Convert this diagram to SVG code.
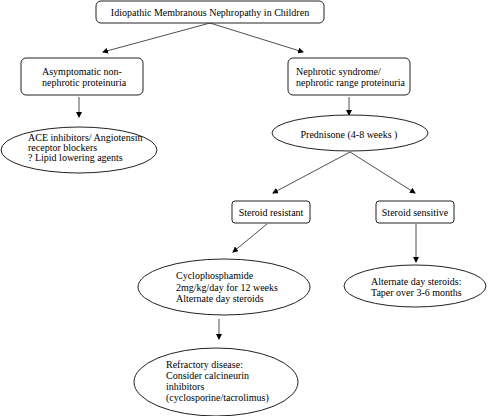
<svg xmlns="http://www.w3.org/2000/svg" width="489" height="416" viewBox="0 0 489 416">
<defs>
<marker id="ah" markerWidth="6" markerHeight="6" refX="5" refY="3" orient="auto" markerUnits="userSpaceOnUse">
<path d="M0,0 L6,3 L0,6 Z" fill="#000"/>
</marker>
<style>
.n{fill:#fff;stroke:#222;stroke-width:1}
.t{font-family:"Liberation Serif","Times New Roman",serif;font-size:10px;fill:#000}
.c{text-anchor:middle}
.e line{stroke:#222;stroke-width:0.8;marker-end:url(#ah)}
</style>
</defs>
<rect width="489" height="416" fill="#fff"/>
<g class="e" id="connectors">
<line x1="210" y1="23" x2="103" y2="52"/>
<line x1="210" y1="23" x2="303" y2="52"/>
<line x1="79" y1="97" x2="79" y2="117"/>
<line x1="349" y1="97" x2="349" y2="115"/>
<line x1="350" y1="152" x2="273" y2="193"/>
<line x1="350" y1="152" x2="415" y2="193"/>
<line x1="267" y1="224" x2="233" y2="252"/>
<line x1="416" y1="224" x2="416" y2="262"/>
<line x1="219" y1="319" x2="219" y2="339"/>
</g>
<g id="root">
<rect class="n" x="96" y="1" width="228" height="22" rx="5"/>
<text class="t c" x="210" y="16">Idiopathic Membranous Nephropathy in Children</text>
</g>
<g id="asymptomatic">
<rect class="n" x="21" y="58" width="122" height="37" rx="5"/>
<text class="t" x="42" y="75">Asymptomatic non-</text>
<text class="t" x="42" y="86">nephrotic proteinuria</text>
</g>
<g id="nephrotic">
<rect class="n" x="288" y="58" width="122" height="37" rx="5"/>
<text class="t" x="296" y="75">Nephrotic syndrome/</text>
<text class="t" x="296" y="86">nephrotic range proteinuria</text>
</g>
<g id="ace">
<ellipse class="n" cx="79" cy="150" rx="78" ry="23"/>
<text class="t" x="28" y="141">ACE inhibitors/ Angiotensin</text>
<text class="t" x="28" y="151">receptor blockers</text>
<text class="t" x="28" y="161">? Lipid lowering agents</text>
</g>
<g id="prednisone">
<ellipse class="n" cx="350" cy="133" rx="78" ry="18"/>
<text class="t c" x="349" y="138">Prednisone (4-8 weeks )</text>
</g>
<g id="resistant">
<rect class="n" x="232" y="201" width="78" height="22" rx="3"/>
<text class="t c" x="271" y="216">Steroid resistant</text>
</g>
<g id="sensitive">
<rect class="n" x="376" y="201" width="78" height="22" rx="3"/>
<text class="t c" x="415" y="216">Steroid sensitive</text>
</g>
<g id="cyclophosphamide">
<ellipse class="n" cx="224" cy="287" rx="86" ry="28"/>
<text class="t" x="176" y="279">Cyclophosphamide</text>
<text class="t" x="176" y="291">2mg/kg/day for 12 weeks</text>
<text class="t" x="176" y="302">Alternate day steroids</text>
</g>
<g id="alternate">
<ellipse class="n" cx="415" cy="286" rx="71" ry="21"/>
<text class="t" x="371" y="285">Alternate day steroids:</text>
<text class="t" x="371" y="296">Taper over 3-6 months</text>
</g>
<g id="refractory">
<ellipse class="n" cx="216" cy="382" rx="82" ry="34"/>
<text class="t" x="166" y="368">Refractory disease:</text>
<text class="t" x="166" y="379">Consider calcineurin</text>
<text class="t" x="166" y="390">inhibitors</text>
<text class="t" x="166" y="401">(cyclosporine/tacrolimus)</text>
</g>
</svg>
